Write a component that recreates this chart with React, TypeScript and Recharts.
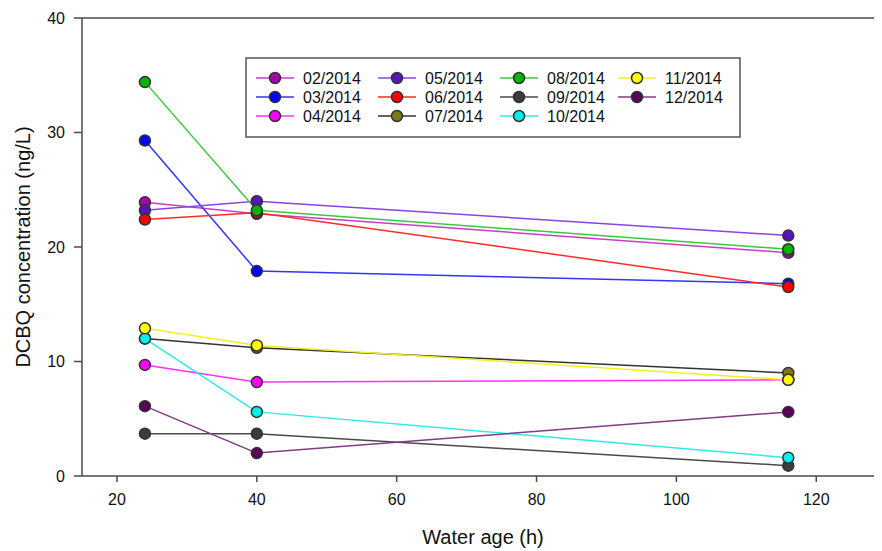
import { LineChart, Line, XAxis, YAxis, ReferenceLine, Legend } from "recharts";

// Sampling months and water age (hours) at which DCBQ was measured
const months = [
  "02/2014", "03/2014", "04/2014", "05/2014", "06/2014", "07/2014",
  "08/2014", "09/2014", "10/2014", "11/2014", "12/2014",
];
const waterAge = [24, 40, 116];

// DCBQ concentration (ng/L) for each month, one value per water age
const feb = [23.9, 22.9, 19.5];
const mar = [29.3, 17.9, 16.8];
const apr = [9.7, 8.2, 8.4];
const may = [23.2, 24.0, 21.0];
const jun = [22.4, 23.0, 16.5];
const jul = [12.0, 11.2, 9.0];
const aug = [34.4, 23.2, 19.8];
const sep = [3.7, 3.7, 0.9];
const oct = [12.0, 5.6, 1.6];
const nov = [12.9, 11.4, 8.4];
const dec = [6.1, 2.0, 5.6];

const xTicks = [20, 40, 60, 80, 100, 120];
const yTicks = [0, 10, 20, 30, 40];

const seriesValues = [feb, mar, apr, may, jun, jul, aug, sep, oct, nov, dec];

// line colour / marker fill per month
const lineColors = [
  "#c83cc8", "#3434ff", "#ff30ff", "#8a44e0", "#ff2a2a", "#333333",
  "#3cc83c", "#4a4a4a", "#30e8e8", "#f0f020", "#843a84",
];
const dotColors = [
  "#a800a8", "#0000ff", "#ff00ff", "#5a14bc", "#ff0000", "#7a7a1a",
  "#00b400", "#3c3c3c", "#00f0f0", "#ffff00", "#5a005a",
];

const data = waterAge.map((x, i) => {
  const row: Record<string, number> = { x };
  months.forEach((m, k) => {
    row[m] = seriesValues[k][i];
  });
  return row;
});

const FONT = "'Liberation Sans', Arial, sans-serif";
const AXIS = "#4a4a4a";

// legend grid: columns filled top to bottom
const legendCols = [11, 133, 255, 373];
const legendRows = [21, 40, 59];

function LegendBox() {
  return (
    <svg width={496} height={81} style={{ display: "block" }}>
      <rect x={1} y={1} width={494} height={79} fill="#fff" stroke="#555" strokeWidth={1.5} />
      {months.map((m, k) => {
        const cx = legendCols[Math.floor(k / 3)];
        const cy = legendRows[k % 3];
        return (
          <g key={m}>
            <line x1={cx} x2={cx + 38} y1={cy} y2={cy} stroke={lineColors[k]} strokeWidth={1.5} />
            <circle cx={cx + 19} cy={cy} r={5.5} fill={dotColors[k]} stroke="#333" strokeWidth={1.5} />
            <text x={cx + 47} y={cy} dominantBaseline="central" fontSize={16} fontFamily={FONT} fill="#111">
              {m}
            </text>
          </g>
        );
      })}
    </svg>
  );
}

function XTitle({ viewBox }: any) {
  return (
    <text
      x={viewBox.x + viewBox.width / 2 + 1}
      y={viewBox.y + 61}
      textAnchor="middle"
      dominantBaseline="central"
      fontSize={20}
      fontFamily={FONT}
      fill="#111"
    >
      Water age (h)
    </text>
  );
}

function YTitle({ viewBox }: any) {
  const x = viewBox.x + 1;
  const y = viewBox.y + viewBox.height / 2;
  return (
    <text
      x={x}
      y={y}
      transform={`rotate(-90 ${x} ${y})`}
      textAnchor="middle"
      dominantBaseline="central"
      fontSize={20}
      fontFamily={FONT}
      fill="#111"
    >
      DCBQ concentration (ng/L)
    </text>
  );
}

export default function App() {
  return (
    <div style={{ width: 874, height: 543, background: "#fff" }}>
      <LineChart width={874} height={543} data={data} margin={{ top: 10, right: 0, bottom: 45, left: 14 }}>
        <XAxis
          dataKey="x"
          type="number"
          domain={[15, 129.4]}
          allowDataOverflow
          ticks={xTicks}
          height={30}
          tickSize={6}
          tickMargin={12}
          stroke={AXIS}
          strokeWidth={1.5}
          tick={{ fontSize: 16, fontFamily: FONT, fill: "#111" }}
          label={<XTitle />}
        />
        <YAxis
          type="number"
          domain={[0, 40]}
          ticks={yTicks}
          width={60}
          tickSize={8}
          tickMargin={9}
          stroke={AXIS}
          strokeWidth={1.5}
          tick={{ fontSize: 16, fontFamily: FONT, fill: "#111" }}
          label={<YTitle />}
        />
        <ReferenceLine y={40} stroke={AXIS} strokeWidth={1.5} />
        <Legend
          layout="horizontal"
          verticalAlign="middle"
          align="center"
          wrapperStyle={{ position: "absolute", left: 237, top: 49, width: 496, height: 81 }}
          content={() => <LegendBox />}
        />
        {months.map((m, k) => (
          <Line
            key={m}
            dataKey={m}
            type="linear"
            stroke={lineColors[k]}
            strokeWidth={1.5}
            dot={{ r: 5.5, fill: dotColors[k], stroke: "#333", strokeWidth: 1.5 }}
            activeDot={false}
            isAnimationActive={false}
          />
        ))}
      </LineChart>
    </div>
  );
}
